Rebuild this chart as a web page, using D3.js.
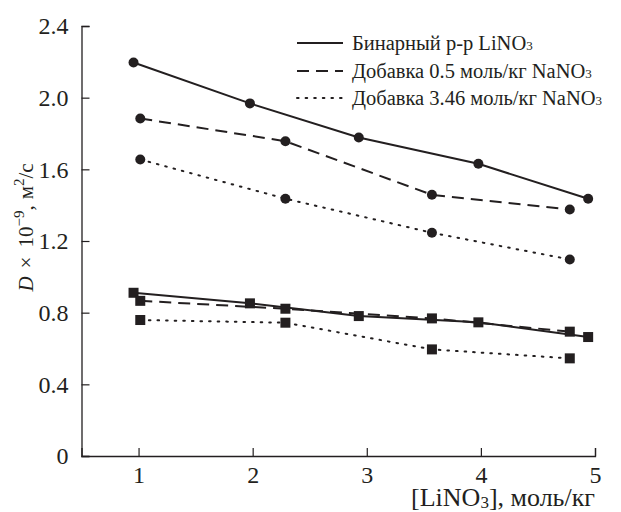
<!DOCTYPE html>
<html><head><meta charset="utf-8">
<script src="https://cdn.jsdelivr.net/npm/d3@7"></script>
<style>body{margin:0;background:#fff}svg{display:block}</style>
</head><body><svg id="c" width="621" height="512"></svg>
<script>
const xTicks = [1, 2, 3, 4, 5];
const yTicks = [0, 0.4, 0.8, 1.2, 1.6, 2.0, 2.4];
const yTickLabels = ["0", "0.4", "0.8", "1.2", "1.6", "2.0", "2.4"];
const seriesNames = ["Бинарный р-р LiNO", "Добавка 0.5 моль/кг NaNO", "Добавка 3.46 моль/кг NaNO"];
// circles (upper group), squares (lower group)
const binX = [0.956, 1.976, 2.93, 3.978, 4.94];
const binCirc = [2.196, 1.968, 1.778, 1.631, 1.436];
const binSq = [0.911, 0.852, 0.781, 0.746, 0.664];
const addX = [1.015, 2.287, 3.571, 4.779];
const add05Circ = [1.884, 1.757, 1.458, 1.376];
const add05Sq = [0.866, 0.822, 0.768, 0.694];
const add346Circ = [1.655, 1.436, 1.246, 1.097];
const add346Sq = [0.759, 0.744, 0.595, 0.545];

const ink = "#231f20";
const FONT = '"Liberation Serif", "DejaVu Serif", serif';
const svg = d3.select("#c").style("font-family", FONT);
const x = d3.scaleLinear().domain([0.5, 5]).range([81.5, 595]);
const y = d3.scaleLinear().domain([0, 2.4]).range([456, 26]);

// axes
const gx = svg.append("g").attr("transform", `translate(0,${y(0)})`)
  .call(d3.axisBottom(x).tickValues(xTicks).tickSize(-8).tickPadding(10).tickFormat(d3.format("d")));
const gy = svg.append("g").attr("transform", `translate(${x(0.5)},0)`)
  .call(d3.axisLeft(y).tickValues(yTicks).tickSize(-8).tickPadding(13).tickFormat((d,i)=>yTickLabels[i]));
[gx, gy].forEach(g => {
  g.attr("font-family", null).attr("font-size", null).style("font-family", FONT).style("font-size", "24px");
  g.select(".domain").attr("stroke", ink).attr("stroke-width", 1.3);
  g.selectAll(".tick line").attr("stroke", ink).attr("stroke-width", 1.2);
  g.selectAll(".tick text").style("font-family", FONT).style("font-size", "24px").attr("fill", ink);
});

const styles = [null, "12,7", "1.6,7"];
const line = d3.line().x(d => x(d[0])).y(d => y(d[1]));
const sets = [
  {xs: binX, c: binCirc, s: binSq, dash: styles[0]},
  {xs: addX, c: add05Circ, s: add05Sq, dash: styles[1]},
  {xs: addX, c: add346Circ, s: add346Sq, dash: styles[2]},
];
sets.forEach(st => {
  [st.c, st.s].forEach(vals => {
    const pts = st.xs.map((v, i) => [v, vals[i]]);
    svg.append("path").attr("d", line(pts)).attr("fill", "none").attr("stroke", ink)
      .attr("stroke-width", 2)
      .attr("stroke-dasharray", st.dash).attr("stroke-linecap", st.dash === "1.6,7" ? "round" : "butt");
  });
  svg.append("g").selectAll("circle").data(st.xs.map((v, i) => [v, st.c[i]])).join("circle")
    .attr("cx", d => x(d[0])).attr("cy", d => y(d[1])).attr("r", 5).attr("fill", ink);
  svg.append("g").selectAll("rect").data(st.xs.map((v, i) => [v, st.s[i]])).join("rect")
    .attr("x", d => x(d[0]) - 5).attr("y", d => y(d[1]) - 5).attr("width", 10).attr("height", 10).attr("fill", ink);
});

function txt(sel, size){ return sel.append("text").style("font-family", FONT).style("font-size", size + "px").attr("fill", ink); }

// legend
const legY = [43, 71, 98];
seriesNames.forEach((n, i) => {
  svg.append("line").attr("x1", 297).attr("x2", 343).attr("y1", legY[i]).attr("y2", legY[i])
    .attr("stroke", ink).attr("stroke-width", 2).attr("stroke-dasharray", styles[i])
    .attr("stroke-linecap", i === 2 ? "round" : "butt");
  const t = txt(svg, 20.5).attr("x", 352).attr("y", legY[i] + 7);
  t.append("tspan").text(n);
  t.append("tspan").text("3").style("font-size", "13px");
});

// x title
const xt = txt(svg, 26).attr("x", 595).attr("y", 506).attr("text-anchor", "end");
xt.append("tspan").text("[LiNO");
xt.append("tspan").text("3").attr("dy", 2).style("font-size", "17px");
xt.append("tspan").text("], моль/кг").attr("dy", -2);

// y title
const yt = txt(svg, 21).attr("transform", "translate(32.5,227.5) rotate(-90)").attr("text-anchor", "middle");
yt.append("tspan").text("D").style("font-style", "italic");
yt.append("tspan").text("×").attr("dx", 8);
yt.append("tspan").text("10").attr("dx", 9);
yt.append("tspan").text("−9").attr("dy", -9).style("font-size", "15px");
yt.append("tspan").text(",").attr("dy", 9);
yt.append("tspan").text("м").attr("dx", 6);
yt.append("tspan").text("2").attr("dy", -9).style("font-size", "15px");
yt.append("tspan").text("/с").attr("dy", 9);
</script></body></html>
